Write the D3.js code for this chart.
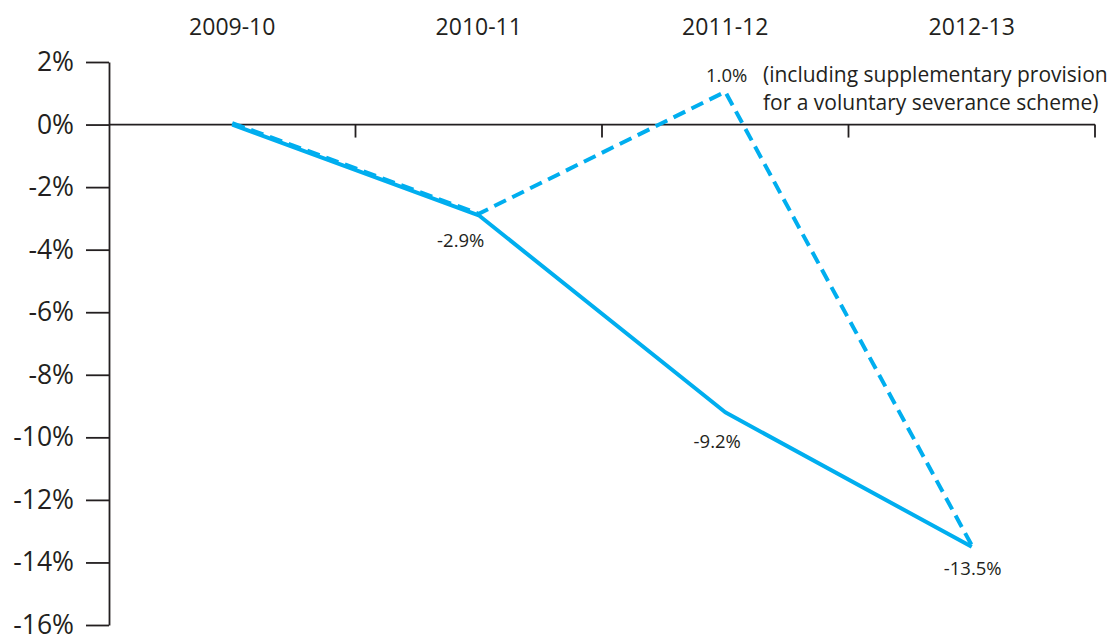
<!DOCTYPE html>
<html>
<head>
<meta charset="utf-8">
<script src="https://cdn.jsdelivr.net/npm/d3@7"></script>
<style>
  body { margin: 0; background: #fff; }
  svg text { font-family: "Open Sans", sans-serif; fill: #231f20; }
</style>
</head>
<body>
<svg width="1114" height="639"></svg>
<script>
// data
const years = ["2009-10", "2010-11", "2011-12", "2012-13"];
const actual = [0, -2.9, -9.2, -13.5];
const withSeverance = [0, -2.9, 1.0, -13.5];
const yTicks = [2, 0, -2, -4, -6, -8, -10, -12, -14, -16];
const noteLines = ["(including supplementary provision", "for a voluntary severance scheme)"];

const svg = d3.select("svg");
const blue = "#00aeef";
const ink = "#231f20";

const x = d3.scaleBand().domain(years).range([109, 1095]);
const y = d3.scaleLinear().domain([-16, 2]).range([625, 62]);
const cx = (i) => x(years[i]) + x.bandwidth() / 2;

// y axis
const yAxis = svg.append("g")
  .attr("transform", "translate(109,0)")
  .call(d3.axisLeft(y).tickValues(yTicks).tickSize(23).tickSizeOuter(0)
    .tickPadding(12).tickFormat((d) => d + "%"));
yAxis.selectAll("path, line").attr("stroke", ink).attr("stroke-width", 1.8);
yAxis.selectAll("text").style("font-size", "26.5px").attr("fill", ink);

// x axis along zero, ticks at band edges
svg.append("line")
  .attr("x1", 109).attr("x2", 1095)
  .attr("y1", y(0)).attr("y2", y(0))
  .attr("stroke", ink).attr("stroke-width", 1.8);

const xAxis = svg.append("g")
  .attr("transform", `translate(${x.bandwidth() / 2},${y(0)})`)
  .call(d3.axisBottom(x).tickSize(13).tickFormat(""));
xAxis.select(".domain").remove();
xAxis.selectAll("line").attr("stroke", ink).attr("stroke-width", 1.8);

// category labels on top
svg.selectAll(".year")
  .data(years)
  .enter()
  .append("text")
  .attr("class", "year")
  .attr("x", (d) => x(d) + x.bandwidth() / 2)
  .attr("y", 35)
  .attr("text-anchor", "middle")
  .style("font-size", "23px")
  .text((d) => d);

// lines
const line = d3.line()
  .x((d, i) => cx(i))
  .y((d) => y(d));

svg.append("path")
  .datum(actual)
  .attr("d", line)
  .attr("fill", "none")
  .attr("stroke", blue)
  .attr("stroke-width", 4)
  .attr("stroke-linejoin", "round");

// dashed sits a hair above the solid one
svg.append("path")
  .datum(withSeverance)
  .attr("d", line)
  .attr("transform", "translate(0,-1.5)")
  .attr("fill", "none")
  .attr("stroke", blue)
  .attr("stroke-width", 4)
  .attr("stroke-dasharray", "13,7");

// value labels
const labelOffsets = [
  { i: 1, v: actual[1], dx: -18, dy: 32 },
  { i: 2, v: actual[2], dx: -8, dy: 36 },
  { i: 3, v: actual[3], dx: 1, dy: 28 },
];
svg.selectAll(".val")
  .data(labelOffsets)
  .enter()
  .append("text")
  .attr("class", "val")
  .attr("x", (d) => cx(d.i) + d.dx)
  .attr("y", (d) => y(d.v) + d.dy)
  .attr("text-anchor", "middle")
  .style("font-size", "18.5px")
  .text((d) => d.v.toFixed(1) + "%");

// 1.0% label + note
svg.append("text")
  .attr("x", cx(2) + 22)
  .attr("y", y(withSeverance[2]) - 11)
  .attr("text-anchor", "end")
  .style("font-size", "18.5px")
  .text(withSeverance[2].toFixed(1) + "%");

svg.selectAll(".note")
  .data(noteLines)
  .enter()
  .append("text")
  .attr("class", "note")
  .attr("x", 763)
  .attr("y", (d, i) => 82 + i * 28)
  .style("font-size", "21px")
  .text((d) => d);
</script>
</body>
</html>
